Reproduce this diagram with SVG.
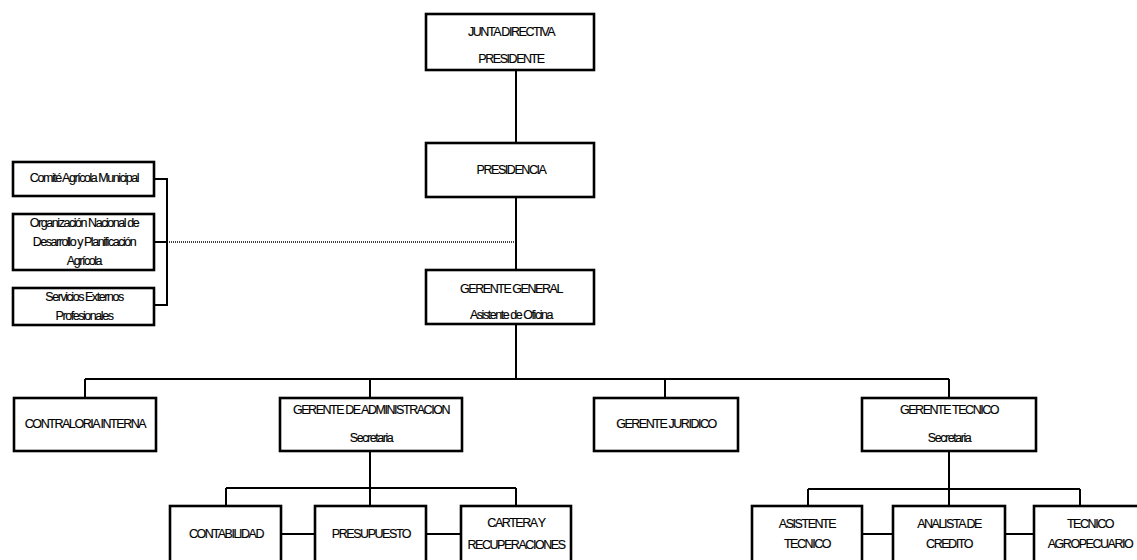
<svg xmlns="http://www.w3.org/2000/svg" width="1137" height="560" viewBox="0 0 1137 560">
<style>
.box{fill:#fff;stroke:#000;stroke-width:2.6}
.ln{fill:none;stroke:#000;stroke-width:2}
.dot{fill:none;stroke:#000;stroke-width:1.6;stroke-dasharray:1 1}
text{font-family:"Liberation Sans",Arial,sans-serif;font-size:12.5px;letter-spacing:-1.45px;text-anchor:middle;fill:#000;stroke:#000;stroke-width:0.15}
</style>
<rect width="1137" height="560" fill="#fff"/>
<g id="connectors">
<path class="ln" d="M516 70V143M516 197V270M516 324V379M85 379H949M85 379V398M370 379V398M665 379V398M949 379V398"/>
<path class="ln" d="M370 451V488M226 488H516M226 488V506M370 488V506M516 488V506M281 534H315M426 534H461"/>
<path class="ln" d="M949 451V489M808 489H1080M808 489V506M949 489V506M1080 489V506M862 534H893M1005 534H1034"/>
<path class="ln" d="M154 179H167V305H154M154 242H167"/>
<path class="dot" d="M167 242H515"/>
</g>
<g id="junta"><rect class="box" x="426" y="14" width="168" height="56"/><text x="511" y="36">JUNTA DIRECTIVA</text><text x="511" y="63">PRESIDENTE</text></g>
<g id="presidencia"><rect class="box" x="426" y="143" width="168" height="54"/><text x="511" y="174">PRESIDENCIA</text></g>
<g id="gerente-general"><rect class="box" x="426" y="270" width="168" height="54"/><text x="511" y="293">GERENTE GENERAL</text><text x="511" y="319">Asistente de Oficina</text></g>
<g id="comite"><rect class="box" x="13" y="162" width="141" height="34"/><text x="84" y="182">Comité Agrícola Municipal</text></g>
<g id="organizacion"><rect class="box" x="13" y="214" width="141" height="56"/><text x="84" y="227">Organización Nacional de</text><text x="84" y="246">Desarrollo y Planificación</text><text x="84" y="265">Agrícola</text></g>
<g id="servicios"><rect class="box" x="13" y="288" width="141" height="37"/><text x="84" y="301">Servicios Externos</text><text x="84" y="320">Profesionales</text></g>
<g id="contraloria"><rect class="box" x="14" y="398" width="142" height="53"/><text x="85" y="428">CONTRALORIA INTERNA</text></g>
<g id="gerente-admin"><rect class="box" x="280" y="398" width="182" height="53"/><text x="371" y="414">GERENTE DE ADMINISTRACION</text><text x="371" y="442">Secretaria</text></g>
<g id="gerente-juridico"><rect class="box" x="594" y="398" width="144" height="53"/><text x="666" y="428">GERENTE JURIDICO</text></g>
<g id="gerente-tecnico"><rect class="box" x="862" y="398" width="174" height="53"/><text x="949" y="414">GERENTE TECNICO</text><text x="949" y="442">Secretaria</text></g>
<g id="contabilidad"><rect class="box" x="170" y="506" width="111" height="60"/><text x="226" y="538">CONTABILIDAD</text></g>
<g id="presupuesto"><rect class="box" x="315" y="506" width="111" height="60"/><text x="371" y="538">PRESUPUESTO</text></g>
<g id="cartera"><rect class="box" x="461" y="506" width="110" height="60"/><text x="516" y="527">CARTERA Y</text><text x="516" y="549">RECUPERACIONES</text></g>
<g id="asistente"><rect class="box" x="752" y="506" width="110" height="60"/><text x="807" y="528">ASISTENTE</text><text x="807" y="548">TECNICO</text></g>
<g id="analista"><rect class="box" x="893" y="506" width="112" height="60"/><text x="949" y="528">ANALISTA DE</text><text x="949" y="548">CREDITO</text></g>
<g id="tecnico-agro"><rect class="box" x="1034" y="506" width="110" height="60"/><text x="1090" y="528">TECNICO</text><text x="1090" y="548">AGROPECUARIO</text></g>
</svg>
